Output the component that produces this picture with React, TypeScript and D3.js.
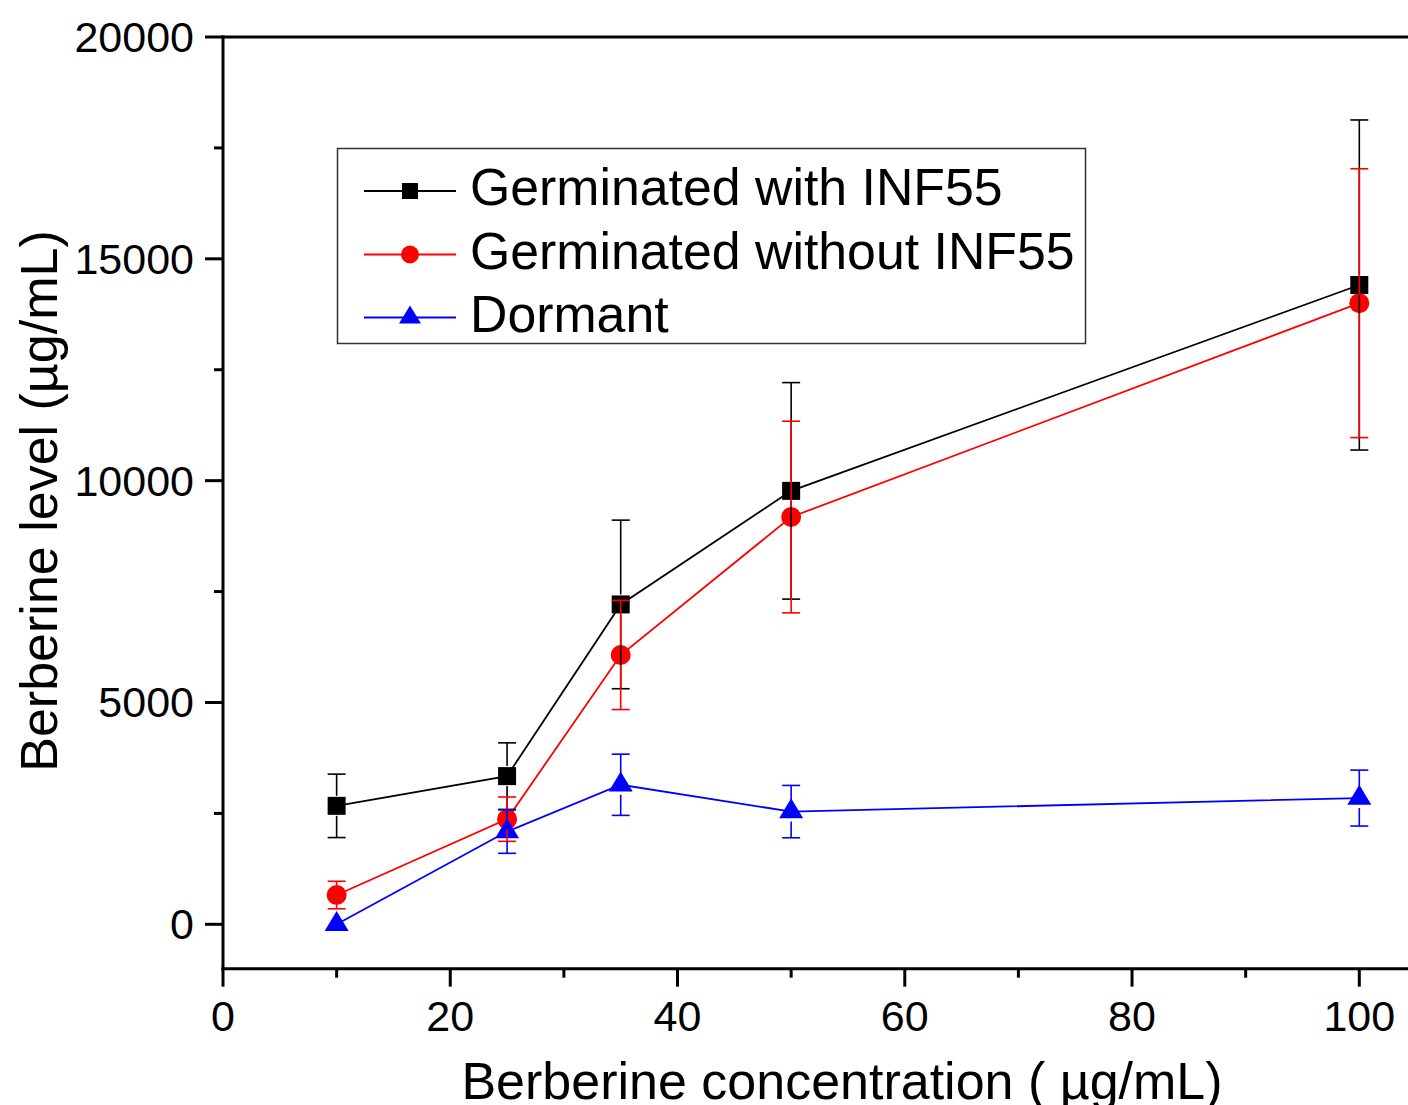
import React from 'react';
import * as d3 from 'd3';

// ---------- data ----------
const concentrations = [10, 25, 35, 50, 100];
const withINF55 = [2670, 3340, 7210, 9770, 14410];
const withINF55Err = [715, 750, 1900, 2440, 3720];
const withoutINF55 = [660, 2370, 6070, 9180, 14000];
const withoutINF55Err = [310, 500, 1230, 2160, 3030];
const dormant = [0, 2090, 3145, 2540, 2845];
const dormantErr = [0, 490, 690, 590, 630];

const seriesNames = ['Germinated with INF55', 'Germinated without INF55', 'Dormant'];
const seriesColors = ['#000000', '#ff0000', '#0000ff'];
const seriesShapes = ['square', 'circle', 'triangle'];

const xMajorTicks = [0, 20, 40, 60, 80, 100];
const xMinorTicks = [10, 30, 50, 70, 90];
const yMajorTicks = [0, 5000, 10000, 15000, 20000];
const yMinorTicks = [2500, 7500, 12500, 17500];

const xTitle = 'Berberine concentration ( µg/mL)';
const yTitle = 'Berberine level (µg/mL)';

const FONT = '"Liberation Sans", Arial, sans-serif';

function Marker({ shape, cx, cy, color, size }: { shape: string; cx: number; cy: number; color: string; size: number }) {
  if (shape === 'square') {
    return <rect x={cx - size / 2} y={cy - size / 2} width={size} height={size} fill={color} />;
  }
  if (shape === 'circle') {
    return <circle cx={cx} cy={cy} r={size / 2 + 1} fill={color} />;
  }
  const w = size + 6;
  const h = size + 2;
  const pts = [
    [cx, cy - (2 * h) / 3],
    [cx - w / 2, cy + h / 3],
    [cx + w / 2, cy + h / 3],
  ];
  return <polygon points={pts.map((p) => p.join(',')).join(' ')} fill={color} />;
}

export default function App() {
  const W = 1408;
  const H = 1105;
  const x = d3.scaleLinear().domain([0, 100]).range([223, 1359.3]);
  const y = d3.scaleLinear().domain([0, 20000]).range([924.3, 37]);
  const xMax = 105;
  const yMin = -1000;
  const yMax = 20000;

  const values = [withINF55, withoutINF55, dormant];
  const errs = [withINF55Err, withoutINF55Err, dormantErr];

  const line = d3
    .line<number>()
    .x((_, i) => x(concentrations[i]))
    .y((d) => y(d));

  const markerSize = 18;
  const gap = 10;
  const capW = 18;

  return (
    <svg
      width={W}
      height={H}
      viewBox={`0 0 ${W} ${H}`}
      style={{ position: 'absolute', left: 0, top: 0, background: '#fff' }}
      fontFamily={FONT}
    >
      <rect x={0} y={0} width={W} height={H} fill="#fff" />

      {/* series lines */}
      {values.map((vals, s) => (
        <path key={'l' + s} d={line(vals) || ''} fill="none" stroke={seriesColors[s]} strokeWidth={1.8} />
      ))}

      {/* markers */}
      {values.map((vals, s) =>
        vals.map((v, i) => (
          <Marker
            key={'m' + s + '-' + i}
            shape={seriesShapes[s]}
            cx={x(concentrations[i])}
            cy={y(v)}
            color={seriesColors[s]}
            size={markerSize}
          />
        ))
      )}

      {/* error bars */}
      {values.map((vals, s) =>
        vals.map((v, i) => {
          const e = errs[s][i];
          if (!e) return null;
          const cx = x(concentrations[i]);
          const cy = y(v);
          const yt = y(v + e);
          const yb = y(v - e);
          const c = seriesColors[s];
          return (
            <g key={'e' + s + '-' + i} stroke={c} strokeWidth={1.6}>
              {cy - gap > yt && <line x1={cx} x2={cx} y1={yt} y2={cy - gap} />}
              {cy + gap < yb && <line x1={cx} x2={cx} y1={cy + gap} y2={yb} />}
              <line x1={cx - capW / 2} x2={cx + capW / 2} y1={yt} y2={yt} />
              <line x1={cx - capW / 2} x2={cx + capW / 2} y1={yb} y2={yb} />
            </g>
          );
        })
      )}

      {/* frame */}
      <g stroke="#000" strokeWidth={3} fill="none">
        <line x1={x(0)} x2={x(0)} y1={y(yMin) + 1.5} y2={y(yMax) - 1.5} />
        <line x1={x(0) - 1.5} x2={x(xMax)} y1={y(yMin)} y2={y(yMin)} />
        <line x1={x(0) - 1.5} x2={x(xMax)} y1={y(yMax)} y2={y(yMax)} />
        <line x1={x(xMax)} x2={x(xMax)} y1={y(yMin)} y2={y(yMax)} />
      </g>

      {/* y ticks */}
      <g stroke="#000" strokeWidth={3}>
        {yMajorTicks.map((t) => (
          <line key={'ym' + t} x1={x(0) - 18} x2={x(0)} y1={y(t)} y2={y(t)} />
        ))}
        {yMinorTicks.map((t) => (
          <line key={'yn' + t} x1={x(0) - 9} x2={x(0)} y1={y(t)} y2={y(t)} />
        ))}
      </g>
      {yMajorTicks.map((t) => (
        <text key={'yl' + t} x={194} y={y(t) + 15} textAnchor="end" fontSize={43} fill="#000">
          {t}
        </text>
      ))}

      {/* x ticks */}
      <g stroke="#000" strokeWidth={3}>
        {xMajorTicks.map((t) => (
          <line key={'xm' + t} x1={x(t)} x2={x(t)} y1={y(yMin)} y2={y(yMin) + 18} />
        ))}
        {xMinorTicks.map((t) => (
          <line key={'xn' + t} x1={x(t)} x2={x(t)} y1={y(yMin)} y2={y(yMin) + 9} />
        ))}
      </g>
      {xMajorTicks.map((t) => (
        <text key={'xl' + t} x={x(t)} y={1031} textAnchor="middle" fontSize={43} fill="#000">
          {t}
        </text>
      ))}

      {/* axis titles */}
      <text x={842} y={1099} textAnchor="middle" fontSize={52} fill="#000">
        {xTitle}
      </text>
      <text
        transform={`translate(57, 501) rotate(-90)`}
        textAnchor="middle"
        fontSize={52}
        fill="#000"
      >
        {yTitle}
      </text>

      {/* legend */}
      <rect x={337.5} y={148.5} width={748} height={195} fill="#fff" stroke="#333" strokeWidth={1.5} />
      {seriesNames.map((name, s) => {
        const ly = [191, 254.5, 317.5][s];
        return (
          <g key={'lg' + s}>
            <line x1={364} x2={456} y1={ly} y2={ly} stroke={seriesColors[s]} strokeWidth={1.8} />
            <Marker shape={seriesShapes[s]} cx={410} cy={ly} color={seriesColors[s]} size={16} />
            <text x={470} y={ly + 14} fontSize={51.8} fill="#000">
              {name}
            </text>
          </g>
        );
      })}
    </svg>
  );
}
